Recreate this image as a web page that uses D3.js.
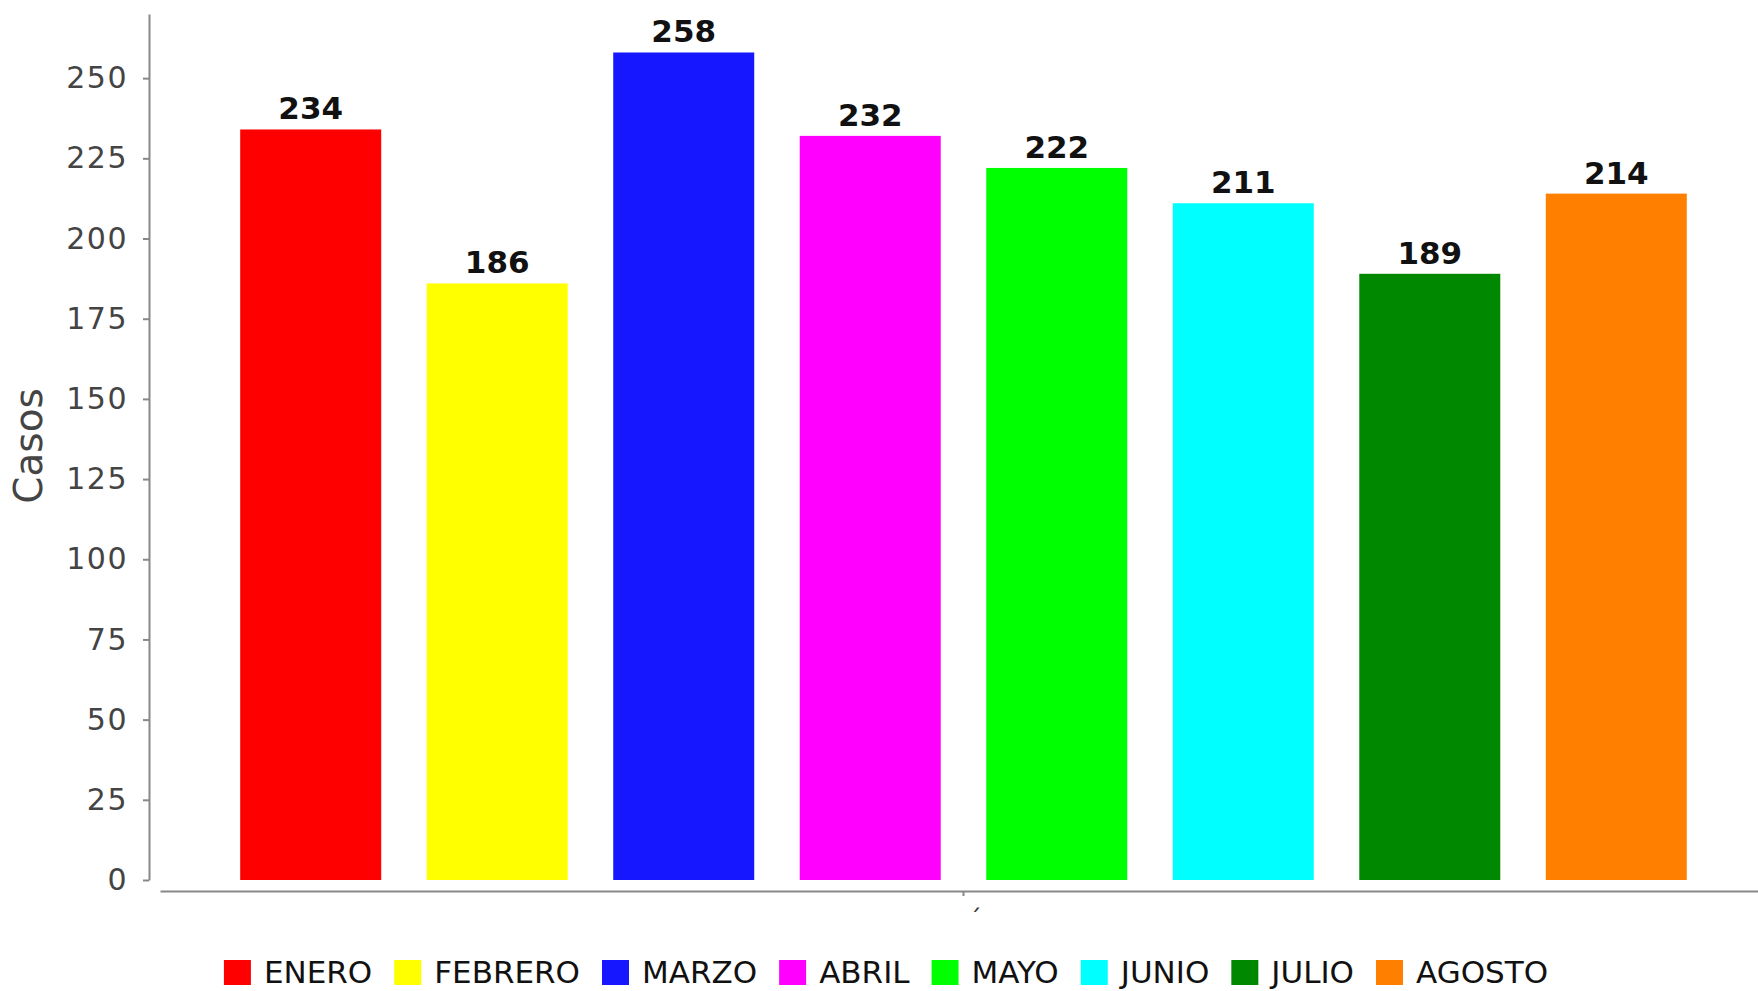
<!DOCTYPE html>
<html>
<head>
<meta charset="utf-8">
<script src="https://cdn.jsdelivr.net/npm/d3@7"></script>
<style>
  body { margin: 0; background: #fff; }
  text { font-family: "DejaVu Sans", sans-serif; }
</style>
</head>
<body>
<div id="chart"></div>
<script>
// data
var categories = ["´"];
var months = ["ENERO", "FEBRERO", "MARZO", "ABRIL", "MAYO", "JUNIO", "JULIO", "AGOSTO"];
var values = [234, 186, 258, 232, 222, 211, 189, 214];
var colors = ["#ff0000", "#ffff00", "#1616ff", "#ff00ff", "#00ff00", "#00ffff", "#008800", "#ff8000"];
var yTicks = [0, 25, 50, 75, 100, 125, 150, 175, 200, 225, 250];

var W = 1758, H = 991;

var svg = d3.select("#chart")
  .append("svg")
    .attr("width", W)
    .attr("height", H);

// y scale
var y = d3.scaleLinear().domain([0, 270]).range([880, 14]);

// category axis (one category) and series inside it
var x0 = d3.scaleBand().domain(categories).range([160, 1767]);
var x1 = d3.scaleBand().domain(months)
  .range([x0(categories[0]), x0(categories[0]) + x0.bandwidth()])
  .paddingInner(0.244)
  .paddingOuter(0.43);

// Y axis
var yAxis = svg.append("g")
  .attr("transform", "translate(149,0)")
  .call(d3.axisLeft(y).tickValues(yTicks).tickSize(6).tickSizeOuter(0).tickPadding(15));
yAxis.select(".domain").attr("stroke", "#888").attr("stroke-width", 2);
yAxis.selectAll(".tick line").attr("stroke", "#888").attr("stroke-width", 2);
yAxis.selectAll(".tick text")
  .attr("fill", "#444")
  .style("font-size", "30px")
  .style("font-family", "DejaVu Sans")
  .style("letter-spacing", "1.5px");

// X axis
var xAxis = svg.append("g")
  .attr("transform", "translate(0,891)")
  .call(d3.axisBottom(x0).tickSize(5).tickSizeOuter(0).tickPadding(14));
xAxis.select(".domain").attr("stroke", "#888").attr("stroke-width", 2);
xAxis.selectAll(".tick line").attr("stroke", "#888").attr("stroke-width", 2);
xAxis.selectAll(".tick text")
  .attr("fill", "#333")
  .attr("dx", 12)
  .style("font-size", "24px")
  .style("font-family", "DejaVu Sans");

// axis label
svg.append("text")
  .attr("transform", "translate(42,446) rotate(-90)")
  .attr("text-anchor", "middle")
  .attr("fill", "#444")
  .style("font-size", "39px")
  .text("Casos");

// bars
svg.selectAll(".bar")
  .data(months)
  .enter()
  .append("rect")
    .attr("class", "bar")
    .attr("x", function(d) { return x1(d); })
    .attr("width", x1.bandwidth())
    .attr("y", function(d, i) { return y(values[i]); })
    .attr("height", function(d, i) { return y(0) - y(values[i]); })
    .attr("fill", function(d, i) { return colors[i]; });

// value labels
svg.selectAll(".val")
  .data(months)
  .enter()
  .append("text")
    .attr("class", "val")
    .attr("x", function(d) { return x1(d) + x1.bandwidth() / 2; })
    .attr("y", function(d, i) { return y(values[i]) - 10; })
    .attr("text-anchor", "middle")
    .attr("fill", "#111")
    .style("font-size", "31px")
    .style("font-weight", "bold")
    .text(function(d, i) { return values[i]; });

// legend, centred
var legend = svg.append("g");
var xpos = 0;
months.forEach(function(m, i) {
  var g = legend.append("g").attr("transform", "translate(" + xpos + ",0)");
  g.append("rect")
    .attr("x", 0).attr("y", 960)
    .attr("width", 27).attr("height", 25)
    .attr("fill", colors[i]);
  var t = g.append("text")
    .attr("x", 40).attr("y", 983)
    .attr("fill", "#111")
    .style("font-size", "31px")
    .text(m);
  xpos += 40 + t.node().getComputedTextLength() + 22;
});
var legendW = xpos - 22;
legend.attr("transform", "translate(" + (886 - legendW / 2) + ",0)");
</script>
</body>
</html>
